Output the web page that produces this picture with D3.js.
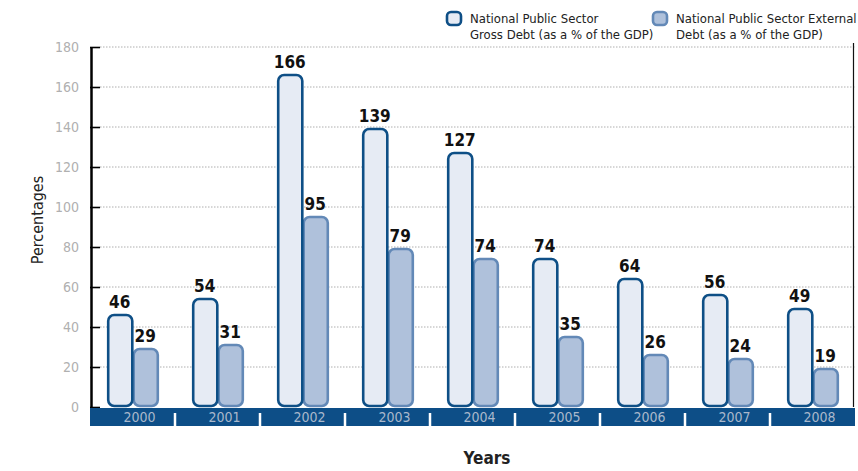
<!DOCTYPE html>
<html>
<head>
<meta charset="utf-8">
<script src="https://cdn.jsdelivr.net/npm/d3@7"></script>
<style>
	body { margin: 0; background: #fff; }
	svg text { font-family: "Liberation Sans Narrow", "DejaVu Sans Condensed", "DejaVu Sans", sans-serif; font-stretch: condensed; }
</style>
</head>
<body>
<svg id="chart" width="858" height="471"></svg>
<script>
// data
var years = ["2000", "2001", "2002", "2003", "2004", "2005", "2006", "2007", "2008"];
var grossDebt = [46, 54, 166, 139, 127, 74, 64, 56, 49];
var externalDebt = [29, 31, 95, 79, 74, 35, 26, 24, 19];
var yTicks = [0, 20, 40, 60, 80, 100, 120, 140, 160, 180];
var seriesNames = [
	["National Public Sector", "Gross Debt (as a % of the GDP)"],
	["National Public Sector External", "Debt (as a % of the GDP)"]
];

var svg = d3.select("#chart"),
	plotLeft = 90,
	plotRight = 855,
	plotTop = 47,
	plotBottom = 407;

var x = d3.scaleBand().domain(years).range([plotLeft, plotRight]).padding(0);
var inner = d3.scaleBand().domain([0, 1]).range([0, x.bandwidth()]).paddingOuter(0.667).paddingInner(0);
var y = d3.scaleLinear().domain([0, 180]).range([plotBottom, plotTop]);

var styles = [
	{fill: "#e6ebf4", stroke: "#0e4f86"},
	{fill: "#afc1db", stroke: "#6389b7"}
];

// grid lines (dotted)
svg.append("g")
	.selectAll("line")
	.data(yTicks.filter(function(d) { return d > 0; }))
	.enter().append("line")
		.attr("x1", plotLeft + 10)
		.attr("x2", plotRight)
		.attr("y1", function(d) { return y(d); })
		.attr("y2", function(d) { return y(d); })
		.attr("stroke", "#9a9a9a")
		.attr("stroke-width", 0.8)
		.attr("stroke-dasharray", "1.5,1.5");

// right border
svg.append("line")
	.attr("x1", plotRight - 1.5).attr("x2", plotRight - 1.5)
	.attr("y1", plotTop - 4).attr("y2", plotBottom)
	.attr("stroke", "#111").attr("stroke-width", 1.2);

// y axis
var yAxis = svg.append("g")
	.attr("transform", "translate(" + (plotLeft + 1) + ",0)")
	.call(d3.axisLeft(y).tickValues(yTicks).tickSize(0).tickPadding(12));
yAxis.select(".domain").attr("stroke", "#000").attr("stroke-width", 2.5);
yAxis.selectAll("text")
	.attr("fill", "#b0b0b0")
	.style("font-size", "14px")
	.style("font-family", "'Liberation Sans Narrow', 'DejaVu Sans Condensed', 'DejaVu Sans', sans-serif");
yAxis.selectAll(".tick").append("line")
	.attr("x1", -1).attr("x2", 9)
	.attr("stroke", "#000").attr("stroke-width", 1.6);

// bars
var groups = svg.append("g")
	.selectAll("g")
	.data(years)
	.enter().append("g")
		.attr("transform", function(d) { return "translate(" + x(d) + ",0)"; });

[externalDebt, grossDebt].forEach(function(series, k) {
	var s = 1 - k; // external first so the gross bar sits on top
	groups.append("rect")
		.attr("x", inner(s) + 1.2)
		.attr("width", inner.bandwidth() - 1.4)
		.attr("y", function(d, i) { return y(series[i]); })
		.attr("height", function(d, i) { return y(0) - y(series[i]) - 1; })
		.attr("rx", 6)
		.attr("fill", styles[s].fill)
		.attr("stroke", styles[s].stroke)
		.attr("stroke-width", 2.6);
});

[grossDebt, externalDebt].forEach(function(series, s) {
	groups.append("text")
		.attr("x", inner(s) + inner.bandwidth() / 2)
		.attr("y", function(d, i) { return y(series[i]) - 7; })
		.attr("text-anchor", "middle")
		.attr("font-weight", "bold")
		.attr("font-size", 17)
		.attr("fill", "#111")
		.text(function(d, i) { return series[i]; });
});

// x band with years
svg.append("rect")
	.attr("x", plotLeft).attr("y", plotBottom + 1)
	.attr("width", plotRight - plotLeft).attr("height", 18)
	.attr("fill", "#0d4e87");

svg.append("g")
	.selectAll("line")
	.data(years.slice(1))
	.enter().append("line")
		.attr("x1", function(d) { return x(d); })
		.attr("x2", function(d) { return x(d); })
		.attr("y1", plotBottom + 6).attr("y2", plotBottom + 19)
		.attr("stroke", "#fff").attr("stroke-width", 2.5);

svg.append("g")
	.selectAll("text")
	.data(years)
	.enter().append("text")
		.attr("x", function(d) { return x(d) + x.bandwidth() / 2 + 7; })
		.attr("y", plotBottom + 15)
		.attr("text-anchor", "middle")
		.attr("font-size", 14)
		.attr("fill", "#a9b8cc")
		.text(function(d) { return d; });

// axis titles
svg.append("text")
	.attr("transform", "translate(43,220) rotate(-90)")
	.attr("text-anchor", "middle")
	.attr("font-size", 16)
	.attr("fill", "#222")
	.text("Percentages");

svg.append("text")
	.attr("x", 487).attr("y", 464)
	.attr("text-anchor", "middle")
	.attr("font-size", 17)
	.attr("font-weight", "bold")
	.attr("fill", "#222")
	.text("Years");

// legend
var legend = svg.append("g")
	.selectAll("g")
	.data(seriesNames)
	.enter().append("g")
		.attr("transform", function(d, i) { return "translate(" + (447 + i * 206) + ",0)"; });

legend.append("rect")
	.attr("x", 0).attr("y", 12)
	.attr("width", 14).attr("height", 13)
	.attr("rx", 4)
	.attr("fill", function(d, i) { return styles[i].fill; })
	.attr("stroke", function(d, i) { return styles[i].stroke; })
	.attr("stroke-width", 2.6);

legend.append("text")
	.attr("x", 23).attr("y", 23)
	.attr("font-size", 13)
	.attr("fill", "#222")
	.selectAll("tspan")
	.data(function(d) { return d; })
	.enter().append("tspan")
		.attr("x", 23)
		.attr("dy", function(d, i) { return i ? 16 : 0; })
		.text(function(d) { return d; });
</script>
</body>
</html>
